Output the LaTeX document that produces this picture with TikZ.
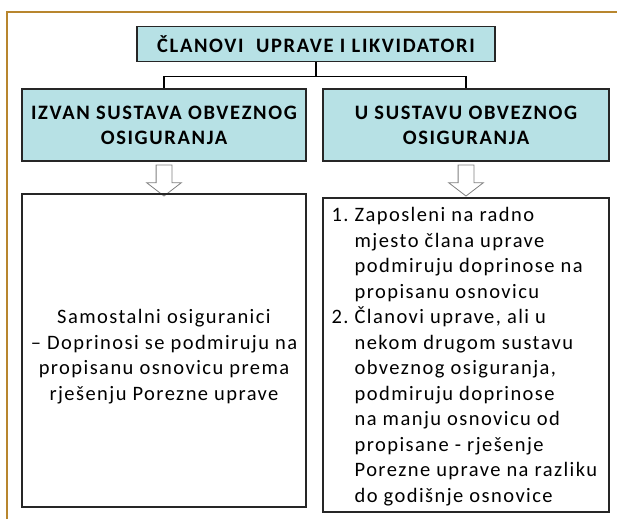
\documentclass[tikz,border=0pt]{standalone}
\usepackage{fontspec}
\setmainfont{Carlito}
\newfontfamily\tijelo[LetterSpace=7]{Carlito}
\newfontfamily\glava[LetterSpace=8]{Carlito}
\usetikzlibrary{arrows, positioning, shapes.arrows}
\definecolor{okvir}{RGB}{184,134,46}
\definecolor{plava}{RGB}{183,225,229}

\begin{document}
\begin{tikzpicture}[x=1pt, y=-1pt, thick]
\tikzstyle{kutija}=[draw=black!85, line width=1.5pt, inner sep=0pt]
\tikzstyle{naslov}=[kutija, fill=plava, align=center, font=\glava\fontsize{20.5}{25}\selectfont\bfseries]
\tikzstyle{tekst}=[inner sep=0pt, font=\tijelo\fontsize{20.5}{25.5}\selectfont]
\tikzstyle{strelica}=[single arrow, draw=black!50, fill=white, line width=0.8pt, rotate=-90,
  inner sep=7.5pt, minimum height=31pt, single arrow head extend=9.5pt, single arrow tip angle=105]
\useasboundingbox (0,0) rectangle (617,519);
\draw[okvir, line width=2pt] (7,519) -- (7,12) -- (617,12);

\node[naslov, minimum width=358pt, minimum height=35pt] (clanovi) at (316,44) {ČLANOVI\ \ UPRAVE I LIKVIDATORI};
\node[naslov, minimum width=284pt, minimum height=72pt] (izvan) at (164,125) {IZVAN SUSTAVA OBVEZNOG\\OSIGURANJA};
\node[naslov, minimum width=286pt, minimum height=72pt] (usustavu) at (466,125) {U SUSTAVU OBVEZNOG\\OSIGURANJA};

\draw[line width=1.4pt] (clanovi.south) -- ++(0,14) -| (izvan.north);
\draw[line width=1.4pt] (clanovi.south) -- ++(0,14) -| (usustavu.north);

\node[strelica] (strelicaL) at (164,177.5) {};
\node[strelica] (strelicaD) at (466,177.5) {};

\node[kutija, minimum width=284pt, minimum height=313pt] (samostalni) at (164,350.5) {};
\node[tekst, align=center] (samostalnitekst) at ([yshift=-6pt]samostalni.center)
  {Samostalni osiguranici\\– Doprinosi se podmiruju na\\propisanu osnovicu prema\\rješenju Porezne uprave};
\node[kutija, minimum width=286pt, minimum height=314pt] (zaposleni) at (466,355) {};
\node[tekst, anchor=north west, below right=6pt and 9pt of zaposleni.north west] (zaposlenitekst)
  {\begin{tabular}{@{}l@{\hspace{6pt}}l@{}}
   1. & Zaposleni na radno\\
      & mjesto člana uprave\\
      & podmiruju doprinose na\\
      & propisanu osnovicu\\
   2. & Članovi uprave, ali u\\
      & nekom drugom sustavu\\
      & obveznog osiguranja,\\
      & podmiruju doprinose\\
      & na manju osnovicu od\\
      & propisane - rješenje\\
      & Porezne uprave na razliku\\
      & do godišnje osnovice
   \end{tabular}};
\end{tikzpicture}
\end{document}
